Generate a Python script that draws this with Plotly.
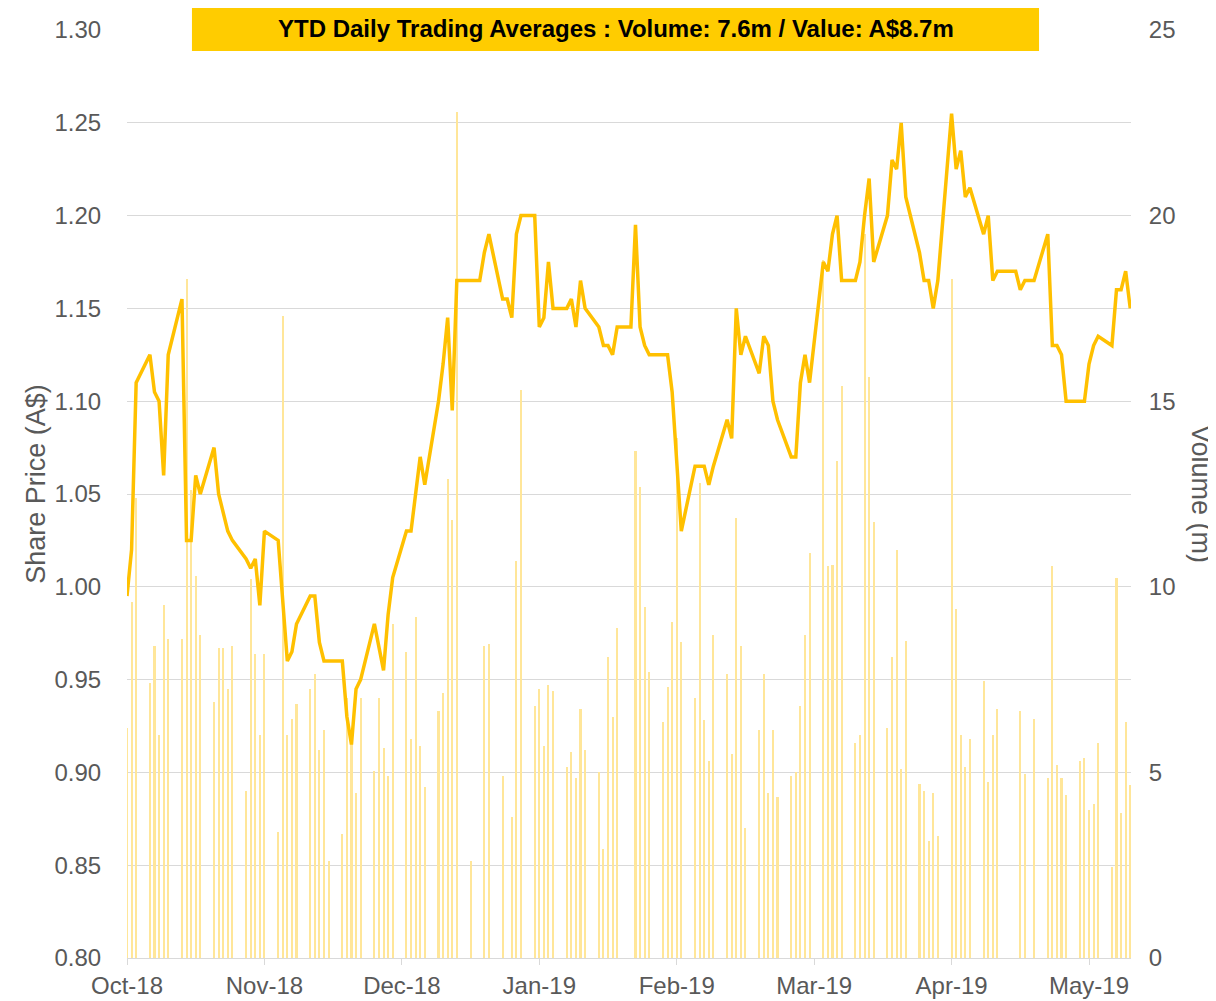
import pandas as pd
import plotly.graph_objects as go

# ---------------- data ----------------
# every weekday from 10-Oct-2018 to 17-May-2019 (public holidays carry the prior price, zero volume)
dates = pd.bdate_range("2018-10-10", "2019-05-17")

price = [
    # Oct-18
    0.995, 1.02, 1.11, 1.125, 1.105, 1.10, 1.06, 1.125, 1.155, 1.025, 1.025, 1.06, 1.05, 1.075, 1.05, 1.04,
    # Nov-18
    1.03, 1.025, 1.015, 1.01, 1.015, 0.99, 1.03, 1.025, 0.99, 0.96, 0.965, 0.98, 0.995, 0.995, 0.97, 0.96,
    0.96, 0.96, 0.93, 0.915, 0.945, 0.95,
    # Dec-18
    0.98, 0.968, 0.955, 0.985, 1.005, 1.03, 1.03, 1.05, 1.07, 1.055, 1.10, 1.12, 1.145, 1.095, 1.165,
    1.165, 1.165, 1.165, 1.18, 1.19, 1.155,
    # Jan-19
    1.155, 1.145, 1.19, 1.20, 1.20, 1.14, 1.145, 1.175, 1.15, 1.15, 1.155, 1.14, 1.165, 1.15, 1.14,
    1.13, 1.13, 1.125, 1.14, 1.14, 1.195, 1.14, 1.13,
    # Feb-19
    1.125, 1.125, 1.125, 1.105, 1.07, 1.03, 1.065, 1.065, 1.065, 1.055, 1.065, 1.09, 1.08, 1.15, 1.125,
    1.135, 1.115, 1.135, 1.13, 1.10,
    # Mar-19
    1.09, 1.07, 1.07, 1.11, 1.125, 1.11, 1.175, 1.17, 1.19, 1.20, 1.165, 1.165, 1.175, 1.20, 1.22,
    1.175, 1.20, 1.23, 1.225, 1.25, 1.21,
    # Apr-19
    1.18, 1.165, 1.165, 1.15, 1.165, 1.255, 1.225, 1.235, 1.21, 1.215, 1.19, 1.20, 1.165, 1.17, 1.17,
    1.17, 1.16, 1.165, 1.165, 1.165, 1.19, 1.13,
    # May-19
    1.13, 1.125, 1.10, 1.10, 1.10, 1.12, 1.13, 1.135, 1.13, 1.16, 1.16, 1.17, 1.15,
]

volume = [
    # Oct-18
    6.2, 9.6, 12.4, 7.4, 8.4, 6.0, 9.5, 8.6, 8.6, 18.3, 12.6, 10.3, 8.7, 6.9, 8.35, 8.35,
    # Nov-18
    7.25, 8.4, 4.5, 10.2, 8.2, 6.0, 8.2, 3.4, 17.3, 6.0, 6.45, 6.85, 7.25, 7.65, 5.6, 6.15,
    2.6, 3.35, 7.0, 6.0, 4.45, 7.0,
    # Dec-18
    5.05, 7.0, 5.65, 4.9, 9.0, 8.25, 5.9, 9.2, 5.7, 4.6, 6.65, 7.15, 12.9, 11.8, 22.8,
    2.6, 0, 0, 8.4, 8.45, 4.9,
    # Jan-19
    0, 3.8, 10.7, 15.3, 6.8, 7.25, 5.7, 7.35, 7.2, 5.15, 5.55, 4.85, 6.7, 5.6, 5.0,
    2.95, 8.1, 6.5, 8.9, 0, 13.65, 12.7, 9.45,
    # Feb-19
    7.7, 6.35, 7.3, 9.05, 14.0, 8.5, 7.0, 12.8, 6.4, 5.3, 8.7, 7.65, 5.5, 11.85, 8.4,
    3.5, 6.15, 7.65, 4.45, 6.15,
    # Mar-19
    4.35, 4.9, 5.0, 6.8, 8.7, 10.9, 18.8, 10.55, 10.6, 13.4, 15.4, 5.8, 6.0, 19.5, 15.65,
    11.75, 6.2, 8.1, 11.0, 5.1, 8.55,
    # Apr-19
    4.7, 4.5, 3.15, 4.45, 3.3, 18.3, 9.4, 6.0, 5.15, 5.9, 7.45, 4.75, 6.0, 6.7, 0,
    0, 6.65, 4.95, 0, 6.45, 4.85, 10.55,
    # May-19
    5.2, 4.85, 4.4, 5.3, 5.4, 4.0, 4.15, 5.8, 2.45, 10.25, 3.9, 6.35, 4.65,
]

tick_dates = ["2018-10-10", "2018-11-09", "2018-12-09", "2019-01-08",
              "2019-02-07", "2019-03-09", "2019-04-08", "2019-05-08"]
tick_labels = ["Oct-18", "Nov-18", "Dec-18", "Jan-19", "Feb-19", "Mar-19", "Apr-19", "May-19"]

title_text = "YTD Daily Trading Averages : Volume: 7.6m / Value: A$8.7m"

# ---------------- figure ----------------
GREY = "#595959"
FONT = "Liberation Sans, Arial, sans-serif"

fig = go.Figure()
fig.add_trace(go.Bar(
    x=dates, y=volume, yaxis="y",
    marker=dict(color="#FFE699", line=dict(width=0)),
    width=0.45 * 86400000, name="Volume",
))
fig.add_trace(go.Scatter(
    x=dates, y=price, yaxis="y2", mode="lines",
    line=dict(color="#FFC000", width=3.5), name="Share Price",
))

fig.update_layout(
    width=1208, height=993,
    margin=dict(l=119, r=85, t=22, b=43, autoexpand=False),
    paper_bgcolor="white", plot_bgcolor="white",
    showlegend=False,
    bargap=0,
    font=dict(family=FONT, color=GREY),
    xaxis=dict(
        type="date", automargin=False,
        range=["2018-10-10", "2019-05-17 04:00"],
        tickvals=tick_dates, ticktext=tick_labels,
        showgrid=False, zeroline=False,
        showline=True, linecolor="#d9d9d9", linewidth=1,
        ticks="outside", ticklen=6, tickcolor="#d9d9d9",
        tickfont=dict(size=24, color=GREY, family=FONT),
    ),
    yaxis=dict(
        side="right", range=[0, 25], dtick=5, automargin=False,
        showgrid=True, gridcolor="#d9d9d9", gridwidth=1,
        minor=dict(dtick=2.5, showgrid=True, gridcolor="#d9d9d9", gridwidth=1),
        zeroline=False, showline=False,
        ticks="outside", ticklen=12, tickcolor="rgba(0,0,0,0)",
        tickfont=dict(size=24, color=GREY, family=FONT),
    ),
    yaxis2=dict(
        overlaying="y", side="left", range=[0.80, 1.30], dtick=0.05, automargin=False,
        tickformat=".2f", showgrid=False, zeroline=False, showline=False,
        ticks="outside", ticklen=20, tickcolor="rgba(0,0,0,0)",
        tickfont=dict(size=24, color=GREY, family=FONT),
    ),
    shapes=[dict(
        type="rect", xref="paper", yref="paper",
        x0=0.0647, x1=0.9084, y0=0.9774, y1=1.0248,
        fillcolor="#FFCC00", line=dict(width=0), layer="above",
    )],
    annotations=[
        dict(text=f"<b>{title_text}</b>", xref="paper", yref="paper",
             x=0.4866, y=1.0011, xanchor="center", yanchor="middle",
             showarrow=False, font=dict(size=24, color="black", family=FONT)),
        dict(text="Share Price (A$)", xref="paper", yref="paper",
             x=-0.0906, y=0.511, xanchor="center", yanchor="middle",
             textangle=-90, showarrow=False, font=dict(size=27, color=GREY, family=FONT)),
        dict(text="Volume (m)", xref="paper", yref="paper",
             x=1.0697, y=0.50, xanchor="center", yanchor="middle",
             textangle=90, showarrow=False, font=dict(size=27, color=GREY, family=FONT)),
    ],
)

fig.write_html("out.html")
